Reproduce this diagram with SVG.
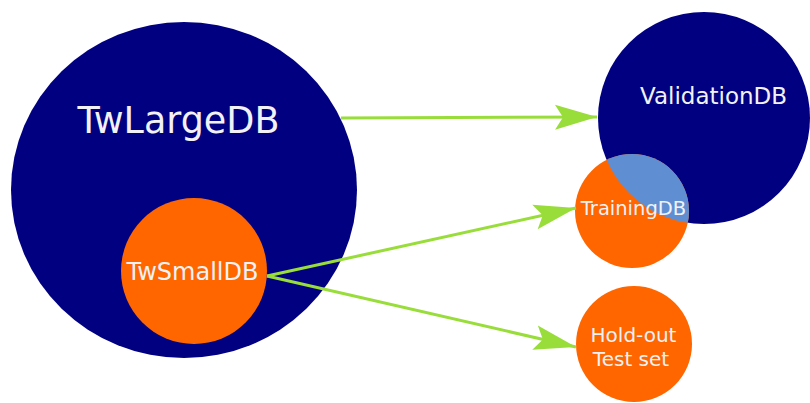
<svg xmlns="http://www.w3.org/2000/svg" width="810" height="403" viewBox="0 0 810 403">
<style>
.navy{fill:#000080}
.orange{fill:#ff6600}
.lbl{fill:#f2f2f6;font-family:"DejaVu Sans",Verdana,sans-serif;text-anchor:middle}
.conn{stroke:#99dd3a;stroke-width:3;fill:none}
</style>
<defs>
<marker id="ah" markerUnits="userSpaceOnUse" markerWidth="50" markerHeight="30" viewBox="-44 -15 46 30" refX="0" refY="0" orient="auto">
<path d="M0,0 L-42,-12.5 L-34,0 L-42,12.5 Z" fill="#99dd3a"/>
</marker>
<clipPath id="valclip"><circle cx="704" cy="118" r="106"/></clipPath>
</defs>
<rect width="810" height="403" fill="#ffffff"/>
<g id="TwLargeDB">
<ellipse class="navy" cx="184" cy="190" rx="173" ry="168"/>
<text class="lbl" x="178.5" y="133" font-size="36.5">TwLargeDB</text>
</g>
<g id="TwSmallDB">
<circle class="orange" cx="194" cy="271" r="73"/>
<text class="lbl" x="192.5" y="280" font-size="24">TwSmallDB</text>
</g>
<g id="ValidationDB">
<circle class="navy" cx="704" cy="118" r="106"/>
<text class="lbl" x="713.5" y="104" font-size="23">ValidationDB</text>
</g>
<g id="TrainingDB">
<circle class="orange" cx="632" cy="211" r="57"/>
<circle cx="632" cy="211" r="57" fill="#5f8fd2" clip-path="url(#valclip)"/>
<text class="lbl" x="633.5" y="215" font-size="19.5">TrainingDB</text>
</g>
<g id="HoldOut">
<circle class="orange" cx="634" cy="344" r="58"/>
<text class="lbl" x="633.5" y="342" font-size="20">Hold-out</text>
<text class="lbl" x="631" y="366" font-size="20">Test set</text>
</g>
<g id="connectors">
<line class="conn" x1="341" y1="118" x2="597" y2="117" marker-end="url(#ah)"/>
<line class="conn" x1="267" y1="276" x2="576" y2="208" marker-end="url(#ah)"/>
<line class="conn" x1="267" y1="276" x2="576" y2="347" marker-end="url(#ah)"/>
</g>
</svg>
